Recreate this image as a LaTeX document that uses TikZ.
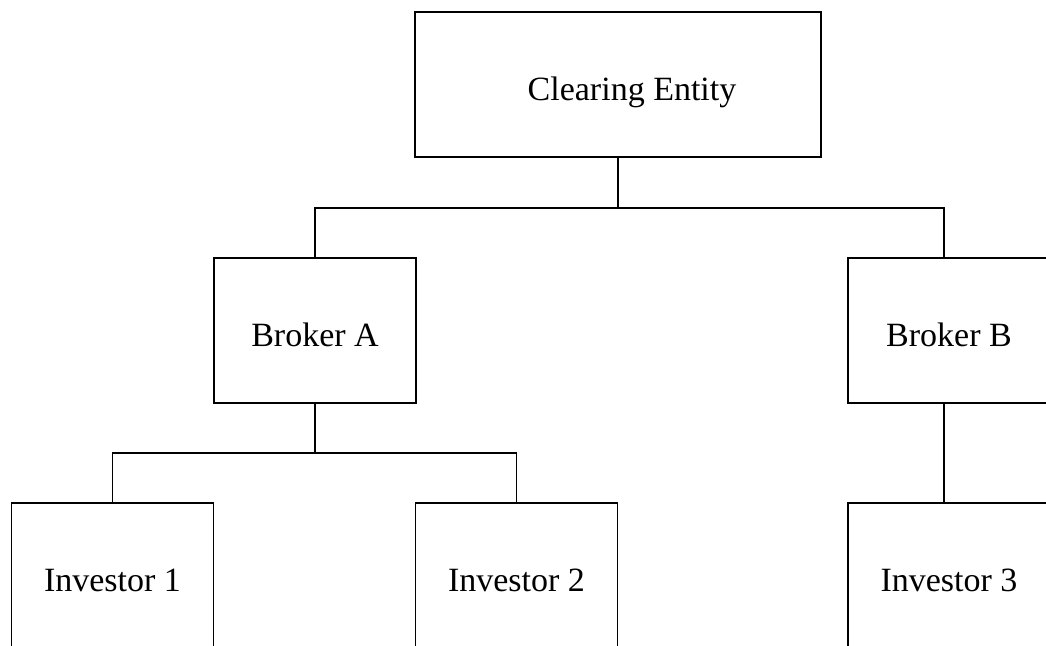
\documentclass[tikz,border=0pt]{standalone}
\usepackage{fontspec}
\setmainfont{Liberation Serif}
\begin{document}
\begin{tikzpicture}[x=1pt,y=-1pt,
  box/.style={draw=black,line width=1.6pt,minimum width=202pt,minimum height=145pt,inner sep=0pt,text height=34pt,text depth=2pt,font=\fontsize{34}{40}\selectfont},
  conn/.style={draw=black,line width=1.6pt}]
\useasboundingbox (0,0) rectangle (1046,645);
\clip (0,0) rectangle (1046,645);
\node[box,minimum width=406pt] (ce) at (618,84.5) {\hspace*{28pt}Clearing Entity};
\node[box] (ba) at (315,330.5) {Broker A};
\node[box] (bb) at (949,330.5) {Broker B};
\node[box] (i1) at (112.5,575.5) {Investor 1};
\node[box] (i2) at (516.5,575.5) {Investor 2};
\node[box] (i3) at (949,575.5) {Investor 3};
\coordinate (j1) at (618,208);
\coordinate (j2) at (315,453);
\draw[conn] (ce.south) -- (j1);
\draw[conn] (ba.north) |- (j1) -| ([xshift=-5pt]bb.north);
\draw[conn] (ba.south) -- (j2);
\draw[conn] (i1.north) |- (j2) -| (i2.north);
\draw[conn] ([xshift=-5pt]bb.south) -- ([xshift=-5pt]i3.north);
\end{tikzpicture}
\end{document}
